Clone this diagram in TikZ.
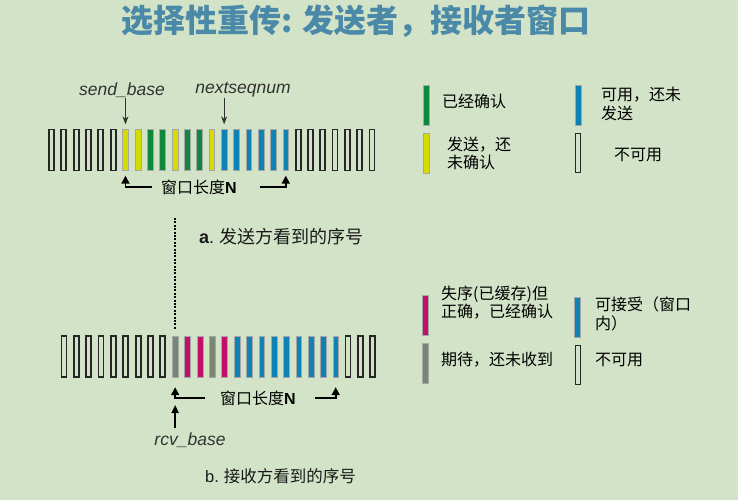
\documentclass[tikz,border=0pt]{standalone}
\usepackage{fontspec}
\setmainfont{Liberation Sans}
\newfontfamily\cjk{Noto Sans CJK SC}
\usetikzlibrary{arrows.meta}

\definecolor{bg}{RGB}{211,227,199}
\definecolor{titleblue}{RGB}{74,137,168}
\definecolor{ackgreen}{RGB}{16,136,60}
\definecolor{sentyellow}{RGB}{214,220,0}
\definecolor{usableblue}{RGB}{14,130,180}
\definecolor{bufmagenta}{RGB}{194,16,106}
\definecolor{expgray}{RGB}{120,134,114}
\definecolor{labelgray}{RGB}{50,50,50}

\begin{document}
\begin{tikzpicture}[x=1pt,y=-1pt,
  bar/.style={rectangle, inner sep=0pt, minimum width=5.8pt, minimum height=41pt},
  barU/.style={bar, draw=black!85, line width=1.8pt, minimum width=5pt},
  barfill/.style={bar, draw=black!35, line width=0.4pt, fill=#1},
  barG/.style={barfill=ackgreen},
  barY/.style={barfill=sentyellow},
  barB/.style={barfill=usableblue},
  barM/.style={barfill=bufmagenta},
  barE/.style={barfill=expgray},
  ptrlabel/.style={inner sep=0pt, font=\fontsize{17.5}{20}\selectfont\itshape, text=labelgray},
  ptrarrow/.style={draw=labelgray, line width=0.7pt, -{Stealth[length=8pt,width=6pt]}},
  winarrow/.style={draw=black, line width=1.8pt, -{Triangle[length=8pt,width=8pt]}},
  wintext/.style={inner sep=0pt, font=\fontsize{16}{18}\selectfont\cjk},
  legtext/.style={inner sep=0pt, anchor=west, align=left, font=\fontsize{16}{18.5}\selectfont\cjk},
  caption/.style={inner sep=0pt, anchor=west, text=black!90},
]
% background and page frame
\fill[bg] (0,0) rectangle (738,500);
\useasboundingbox (0,0) rectangle (738,500);

% title
\node[inner sep=0pt, text=titleblue, font=\fontsize{32}{36}\selectfont\cjk\bfseries]
  (title) at (356,21) {选择性重传: 发送者，接收者窗口};

% ---------- sender's view ----------
\foreach \c [count=\i from 0] in {U,U,U,U,U,U,Y,Y,G,G,Y,G,G,Y,B,B,B,B,B,B,U,U,U,U,U,U,U}
  \node[bar\c] (s\i) at ({51.5+\i*12.33},150) {};

\node[ptrlabel] (sendbase) at (122,90) {send\_base};
\node[ptrlabel] (nextseq) at (243,90) {nextseqnum};
\draw[ptrarrow, shorten >=5pt] (sendbase.south -| s6.north) -- (s6.north);
\draw[ptrarrow, shorten >=5pt] (nextseq.south -| s14.north) -- (s14.north);

\node[wintext] (swin) at (199,187) {窗口长度{\rmfamily\bfseries N}};
\coordinate (swinL) at (152,187);
\coordinate (swinR) at (260,187);
\draw[winarrow] (swinL) -| ([yshift=-5pt]s6.south);
\draw[winarrow] (swinR) -| ([yshift=-5pt]s19.south);

% sender legend
\node[barG, minimum height=40pt] (lg) at (426,105) {};
\node[legtext] (lgt) at (442,101) {已经确认};
\node[barB, minimum height=40pt] (lb) at (578,105) {};
\node[legtext] (lbt) at (601,104) {可用，还未\\发送};
\node[barY, minimum height=40pt] (ly) at (426,153) {};
\node[legtext] (lyt) at (447,153.5) {发送，还\\未确认};
\node[barU, minimum height=39pt] (lu) at (578,153) {};
\node[legtext, anchor=center] (lut) at (638,155) {不可用};

\node[caption, font=\fontsize{18}{20}\selectfont] (capa) at (199,237) {{\bfseries a}.\hspace{5pt}{\cjk 发送方看到的序号}};

% ---------- receiver's view ----------
\foreach \c [count=\i from 0] in {U,U,U,U,U,U,U,U,U,E,M,M,E,M,B,B,B,B,B,B,B,B,B,U,U,U}
  \node[bar\c] (r\i) at ({64+\i*12.35},356.5) {};

\coordinate (divtop) at (r9 |- 0,218);
\draw[line width=1.4pt, dash pattern=on 2pt off 1.4pt] (divtop) -- ([yshift=6pt]r9.north);

\node[wintext] (rwin) at (258,398) {窗口长度{\rmfamily\bfseries N}};
\coordinate (rwinL) at (205,398);
\coordinate (rwinR) at (315,398);
\draw[winarrow] (rwinL) -| ([yshift=-10pt]r9.south);
\draw[winarrow] (rwinR) -| ([yshift=-10pt]r22.south);

\node[ptrlabel] (rcvbase) at (190,440) {rcv\_base};
\coordinate (rcvtail) at (r9 |- 0,428);
\draw[winarrow, -{Triangle[length=8pt,width=7pt]}] (rcvtail) -- (r9 |- 0,405);

% receiver legend
\node[barM, minimum height=40pt] (lm) at (425,315) {};
\node[legtext] (lmt) at (441,302.5) {失序(已缓存)但\\正确，已经确认};
\node[barB, minimum height=40pt] (lb2) at (577,317) {};
\node[legtext] (lb2t) at (595,314) {可接受（窗口\\内）};
\node[barE, minimum height=40pt] (le) at (425,363) {};
\node[legtext] (let) at (441,360) {期待，还未收到};
\node[barU, minimum height=39pt] (lu2) at (578,365) {};
\node[legtext] (lu2t) at (595,360) {不可用};

\node[caption, font=\fontsize{16.5}{19}\selectfont] (capb) at (205,476) {b.\hspace{5pt}{\cjk 接收方看到的序号}};
\end{tikzpicture}
\end{document}
